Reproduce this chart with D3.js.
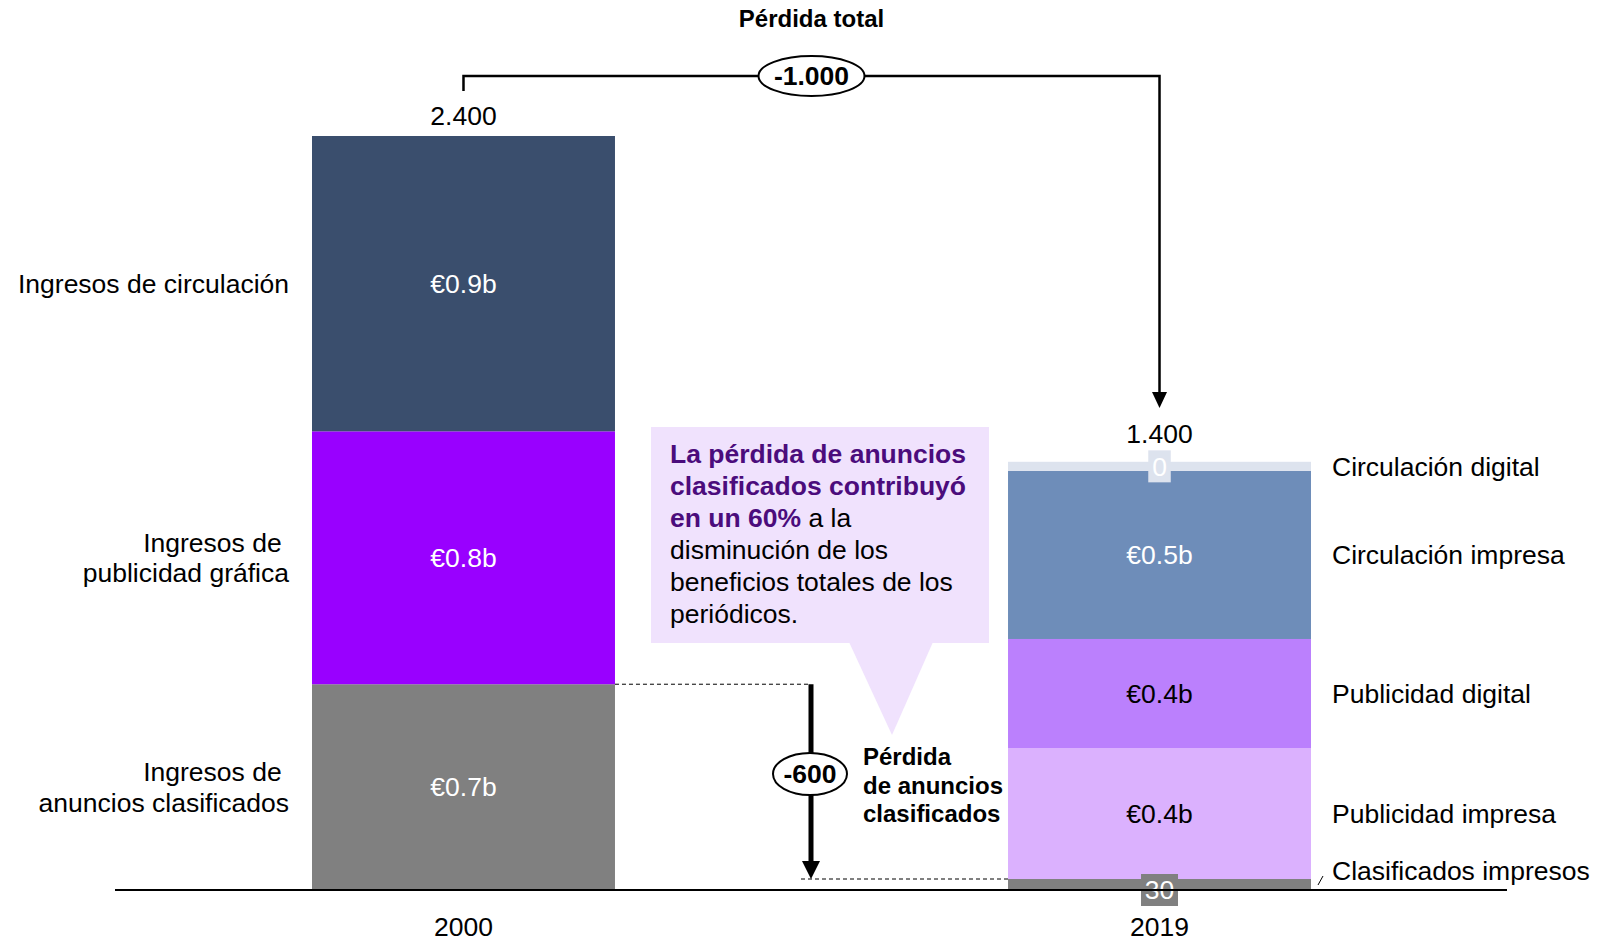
<!DOCTYPE html>
<html>
<head>
<meta charset="utf-8">
<script src="https://cdn.jsdelivr.net/npm/d3@7/dist/d3.min.js"></script>
<style>
  html, body { margin: 0; padding: 0; background: #fff; }
  svg { display: block; }
  text { font-family: "Liberation Sans", Arial, Helvetica, sans-serif; }
</style>
</head>
<body>
<svg id="chart" width="1618" height="943"></svg>
<script>
// ---------- DATA ----------
const years = ["2000", "2019"];
const totalLabels = ["2.400", "1.400"];

// stacked bottom -> top
const categories2000 = ["Ingresos de anuncios clasificados", "Ingresos de publicidad gráfica", "Ingresos de circulación"];
const categoryLines2000 = [["Ingresos de\u00a0", "anuncios clasificados"], ["Ingresos de\u00a0", "publicidad gráfica"], ["Ingresos de circulación"]];
const values2000 = [655, 805, 940];
const segLabels2000 = ["€0.7b", "€0.8b", "€0.9b"];

const categories2019 = ["Clasificados impresos", "Publicidad impresa", "Publicidad digital", "Circulación impresa", "Circulación digital"];
const values2019 = [35, 417, 347, 535, 29];
const segLabels2019 = ["30", "€0.4b", "€0.4b", "€0.5b", "0"];

const totalLossTitle = "Pérdida total";
const totalLossLabel = "-1.000";
const classifiedLossLabel = "-600";
const classifiedLossText = ["Pérdida", "de anuncios", "clasificados"];
const calloutLines = [
  [{t: "La pérdida de anuncios", b: true}],
  [{t: "clasificados contribuyó", b: true}],
  [{t: "en un 60%", b: true}, {t: " a la", b: false}],
  [{t: "disminución de los", b: false}],
  [{t: "beneficios totales de los", b: false}],
  [{t: "periódicos.", b: false}]
];

// ---------- STYLES ----------
const FS = 26.5;
const colors2000 = ["#808080", "#9900ff", "#3a4e6d"];
const colors2019 = ["#808080", "#dbb1fe", "#bb80fd", "#6e8db9", "#dde3ee"];
const segTextColors2019 = ["#ffffff", "#000000", "#000000", "#ffffff", "#ffffff"];
const purpleText = "#4b0c7c";
const calloutFill = "#f0e2fd";

const svg = d3.select("#chart");

const y = d3.scaleLinear().domain([0, 2400]).range([890, 136]);
const x = d3.scaleBand().domain(years).range([312, 1311]).paddingInner(0.5647).paddingOuter(0);
const bw = x.bandwidth();
const cx = yr => x(yr) + bw / 2;

function stack(vals) {
  let acc = 0;
  return vals.map(v => { const s = {y0: acc, y1: acc + v, v}; acc += v; return s; });
}
const st2000 = stack(values2000);
const st2019 = stack(values2019);

// ---------- CALLOUT ----------
svg.append("rect")
  .attr("x", 651).attr("y", 427).attr("width", 338).attr("height", 216)
  .attr("fill", calloutFill);
svg.append("path")
  .attr("d", "M849,642 L933,642 L892,735 Z")
  .attr("fill", calloutFill);

const ct = svg.append("g");
calloutLines.forEach((line, i) => {
  const t = ct.append("text")
    .attr("x", 670).attr("y", 463 + i * 32)
    .attr("font-size", FS)
    .attr("xml:space", "preserve")
    .style("white-space", "pre");
  line.forEach(p => {
    t.append("tspan")
      .attr("font-weight", p.b ? "bold" : "normal")
      .attr("fill", p.b ? purpleText : "#000")
      .text(p.t);
  });
});

// ---------- BARS ----------
const g2000 = svg.append("g");
g2000.selectAll("rect").data(st2000).join("rect")
  .attr("x", x("2000")).attr("width", bw)
  .attr("y", d => y(d.y1)).attr("height", d => y(d.y0) - y(d.y1))
  .attr("fill", (d, i) => colors2000[i]);
g2000.selectAll("text.seg").data(st2000).join("text")
  .attr("class", "seg")
  .attr("x", cx("2000")).attr("y", d => (y(d.y0) + y(d.y1)) / 2)
  .attr("dy", "0.35em").attr("text-anchor", "middle")
  .attr("font-size", FS).attr("fill", "#fff")
  .text((d, i) => segLabels2000[i]);

// left category labels
st2000.forEach((d, i) => {
  const lines = categoryLines2000[i];
  const mid = (y(d.y0) + y(d.y1)) / 2;
  const lh = 30.5;
  const t = svg.append("text")
    .attr("text-anchor", "end").attr("font-size", FS).attr("fill", "#000");
  lines.forEach((ln, j) => {
    t.append("tspan")
      .attr("x", 289)
      .attr("y", mid + (j - (lines.length - 1) / 2) * lh)
      .attr("dy", "0.35em")
      .text(ln);
  });
});

const g2019 = svg.append("g");
g2019.selectAll("rect").data(st2019).join("rect")
  .attr("x", x("2019")).attr("width", bw)
  .attr("y", d => y(d.y1)).attr("height", d => y(d.y0) - y(d.y1))
  .attr("fill", (d, i) => colors2019[i]);

// segment labels 2019 (small segments get a label box)
let topBoxY = Infinity;
st2019.forEach((d, i) => {
  const mid = (y(d.y0) + y(d.y1)) / 2;
  const small = (y(d.y0) - y(d.y1)) < 25;
  const label = segLabels2019[i];
  if (small) {
    const tw = label.length * 14.5 + 8;
    const ty = i === 0 ? y(0) : mid;
    svg.append("rect")
      .attr("x", cx("2019") - tw / 2).attr("y", ty - 16)
      .attr("width", tw).attr("height", 32)
      .attr("fill", colors2019[i]);
    topBoxY = Math.min(topBoxY, ty - 16);
    svg.append("text")
      .attr("x", cx("2019")).attr("y", ty).attr("dy", "0.35em")
      .attr("text-anchor", "middle").attr("font-size", FS).attr("fill", "#fff")
      .text(label);
  } else {
    svg.append("text")
      .attr("x", cx("2019")).attr("y", mid).attr("dy", "0.35em")
      .attr("text-anchor", "middle").attr("font-size", FS)
      .attr("fill", segTextColors2019[i])
      .text(label);
  }
  // right-hand category label
  const ly = Math.min(mid, y(0) - 19);
  svg.append("text")
    .attr("x", 1332).attr("y", ly).attr("dy", "0.35em")
    .attr("font-size", FS).attr("fill", "#000")
    .text(categories2019[i]);
  if (i === 0) {
    svg.append("line")
      .attr("x1", 1318).attr("y1", ly + 14).attr("x2", 1323).attr("y2", ly + 5)
      .attr("stroke", "#000").attr("stroke-width", 1);
  }
});

// ---------- TOTALS ----------
const totals = [d3.sum(values2000), d3.sum(values2019)];
years.forEach((yr, i) => {
  let by = y(totals[i]) - 11;
  if (i === 1) by = Math.min(by, topBoxY - 7);
  svg.append("text")
    .attr("x", cx(yr)).attr("y", by)
    .attr("text-anchor", "middle").attr("font-size", FS).attr("fill", "#000")
    .text(totalLabels[i]);
});

// ---------- AXIS ----------
svg.append("line")
  .attr("x1", 115).attr("x2", 1507).attr("y1", y(0)).attr("y2", y(0))
  .attr("stroke", "#000").attr("stroke-width", 2);
const axis = d3.axisBottom(x).tickSize(0).tickPadding(0);
const ag = svg.append("g").attr("transform", `translate(0,${y(0)})`).call(axis);
ag.select(".domain").remove();
ag.selectAll("text")
  .attr("font-size", FS).attr("fill", "#000")
  .attr("font-family", "\"Liberation Sans\", Arial, sans-serif")
  .attr("y", 46).attr("dy", 0);

// ---------- TOTAL LOSS BRACKET ----------
const bracketY = 76;
const x0 = cx("2000"), x1 = cx("2019");
const arrowTipY = 408;
svg.append("path")
  .attr("d", `M${x0},${y(totals[0]) - 45} L${x0},${bracketY} L${x1},${bracketY} L${x1},${arrowTipY - 14}`)
  .attr("fill", "none").attr("stroke", "#000").attr("stroke-width", 2.5);
svg.append("path")
  .attr("d", `M${x1 - 7.5},${arrowTipY - 16} L${x1 + 7.5},${arrowTipY - 16} L${x1},${arrowTipY} Z`)
  .attr("fill", "#000");
const midX = (x0 + x1) / 2;
svg.append("ellipse")
  .attr("cx", midX).attr("cy", bracketY).attr("rx", 53).attr("ry", 20)
  .attr("fill", "#fff").attr("stroke", "#000").attr("stroke-width", 2);
svg.append("text")
  .attr("x", midX).attr("y", bracketY).attr("dy", "0.35em")
  .attr("text-anchor", "middle").attr("font-size", FS).attr("font-weight", "bold")
  .text(totalLossLabel);
svg.append("text")
  .attr("x", midX).attr("y", 27)
  .attr("text-anchor", "middle").attr("font-size", 24).attr("font-weight", "bold")
  .text(totalLossTitle);

// ---------- CLASSIFIED LOSS ----------
const topC2000 = y(st2000[0].y1);
const topC2019 = y(st2019[0].y1);
const ax = 811;
svg.append("line")
  .attr("x1", x("2000") + bw).attr("x2", ax).attr("y1", topC2000).attr("y2", topC2000)
  .attr("stroke", "#000").attr("stroke-width", 1).attr("stroke-dasharray", "4,3");
svg.append("line")
  .attr("x1", ax - 10).attr("x2", x("2019")).attr("y1", topC2019).attr("y2", topC2019)
  .attr("stroke", "#000").attr("stroke-width", 1).attr("stroke-dasharray", "4,3");
svg.append("line")
  .attr("x1", ax).attr("x2", ax).attr("y1", topC2000).attr("y2", topC2019 - 16)
  .attr("stroke", "#000").attr("stroke-width", 5);
svg.append("path")
  .attr("d", `M${ax - 9},${topC2019 - 18} L${ax + 9},${topC2019 - 18} L${ax},${topC2019} Z`)
  .attr("fill", "#000");
svg.append("ellipse")
  .attr("cx", 810).attr("cy", 774).attr("rx", 37).attr("ry", 21)
  .attr("fill", "#fff").attr("stroke", "#000").attr("stroke-width", 2);
svg.append("text")
  .attr("x", 810).attr("y", 774).attr("dy", "0.35em")
  .attr("text-anchor", "middle").attr("font-size", FS).attr("font-weight", "bold")
  .text(classifiedLossLabel);
classifiedLossText.forEach((ln, i) => {
  svg.append("text")
    .attr("x", 863).attr("y", 765 + i * 28.5)
    .attr("font-size", 24).attr("font-weight", "bold").attr("fill", "#000")
    .text(ln);
});
</script>
</body>
</html>
